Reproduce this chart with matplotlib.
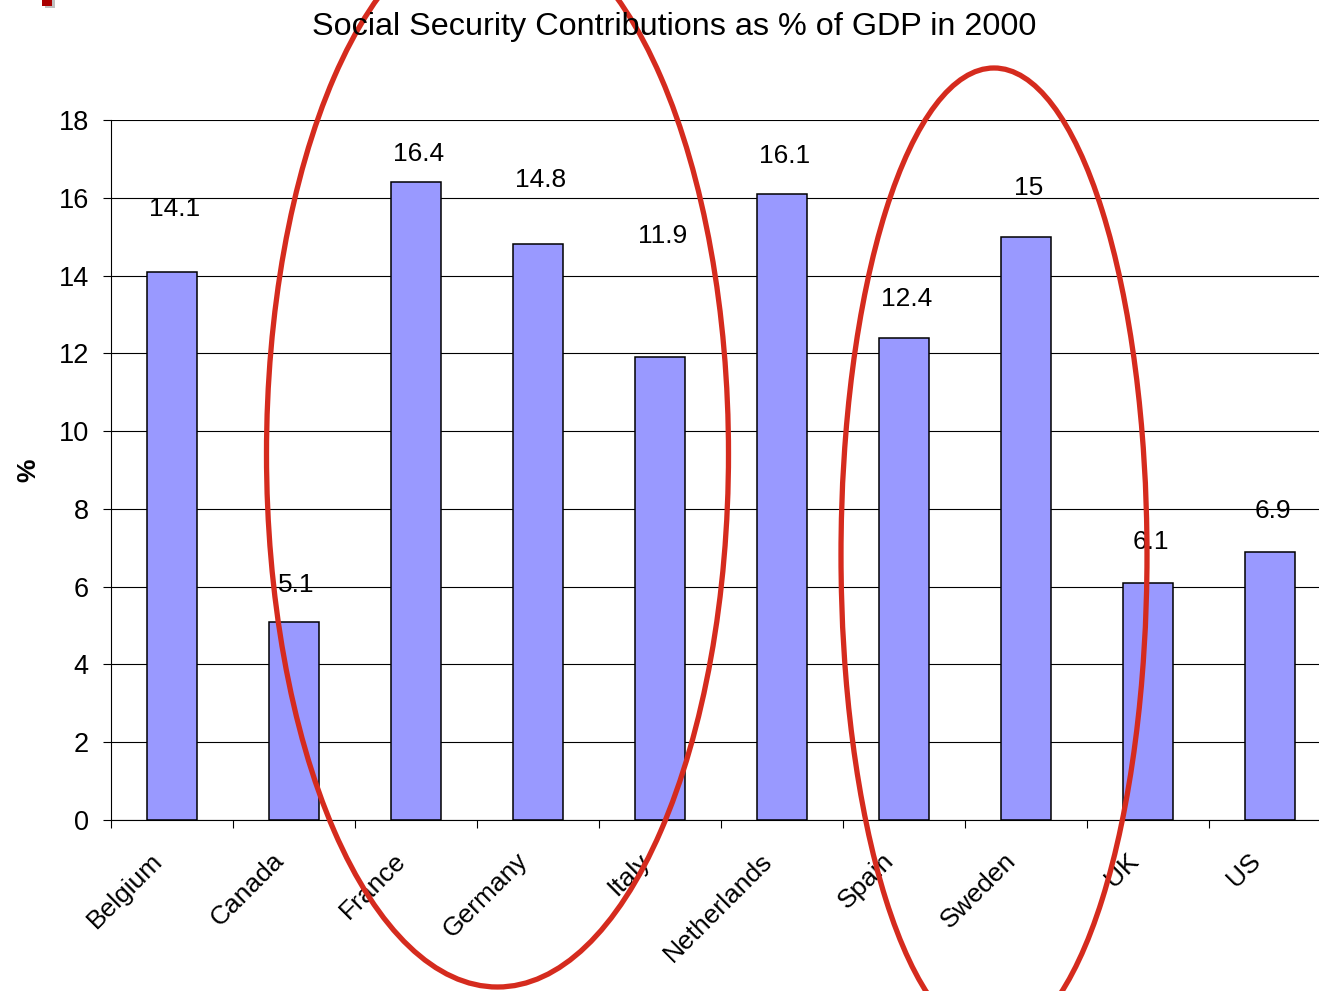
import matplotlib
matplotlib.use("Agg")
import matplotlib.pyplot as plt
from matplotlib.patches import Ellipse, Rectangle
from matplotlib.transforms import ScaledTranslation
import numpy as np

countries = ["Belgium", "Canada", "France", "Germany", "Italy",
             "Netherlands", "Spain", "Sweden", "UK", "US"]
contributions = [14.1, 5.1, 16.4, 14.8, 11.9, 16.1, 12.4, 15.0, 6.1, 6.9]
value_labels = ["14.1", "5.1", "16.4", "14.8", "11.9", "16.1", "12.4", "15", "6.1", "6.9"]

# where the data labels sit (data units)
label_heights = [15.72, 6.05, 17.12, 16.45, 15.02, 17.07, 13.4, 16.26, 7.16, 7.95]

plt.rcParams["font.family"] = ["Liberation Sans", "DejaVu Sans"]

W, H = 1319, 991
fig = plt.figure(figsize=(W / 100, H / 100), dpi=100)
ax = fig.add_axes([111 / W, 1 - 820 / H, 1220 / W, 700 / H])

x = np.arange(len(countries))
ax.bar(x, contributions, width=0.41, color="#9999ff", edgecolor="black",
       linewidth=1.1, zorder=3)
for xi, yl, lab in zip(x, label_heights, value_labels):
    ax.text(xi + 0.02, yl, lab, ha="center", va="center", fontsize=19, zorder=4)

ax.set_xlim(-0.5, len(countries) - 0.5)
ax.set_ylim(0, 18)
ax.set_yticks(np.arange(0, 19, 2))
ax.yaxis.grid(True, color="black", linewidth=0.8, zorder=0)
ax.set_axisbelow(True)
ax.tick_params(axis="y", direction="out", length=6, width=0.8, pad=10,
               labelsize=19.5)

ax.set_xticks(x)
ax.set_xticklabels(countries, rotation=45, ha="right", va="top",
                   rotation_mode="anchor", fontsize=19)
ax.tick_params(axis="x", which="major", length=0, pad=22)
shift = ScaledTranslation(-22 / 100, 2 / 100, fig.dpi_scale_trans)
for lbl in ax.get_xticklabels():
    lbl.set_transform(lbl.get_transform() + shift)
ax.set_xticks(np.arange(-0.5, len(countries), 1), minor=True)
ax.tick_params(axis="x", which="minor", direction="out", length=6, width=0.8)

for side in ("top", "right"):
    ax.spines[side].set_visible(False)
for side in ("left", "bottom"):
    ax.spines[side].set_linewidth(0.8)

ax.set_ylabel("%", fontsize=19, fontweight="bold", labelpad=13)

fig.text(674 / W, 1 - 27 / H, "Social Security Contributions as % of GDP in 2000",
         ha="center", va="center", fontsize=23.3)

# red rings drawn over the slide, in pixel coordinates
over = fig.add_axes([0, 0, 1, 1], facecolor="none")
over.set_xlim(0, W)
over.set_ylim(H, 0)
over.axis("off")
over.add_patch(Rectangle((45, -2), 10, 10, color="#c0c0c0", lw=0))
over.add_patch(Rectangle((42, -5), 10, 11, color="#aa0000", lw=0))
ring = dict(fill=False, edgecolor="#d52b1e", linewidth=3.8)
over.add_patch(Ellipse((497.5, 454), 2 * 231, 2 * 533, **ring))
over.add_patch(Ellipse((994, 555), 2 * 153, 2 * 487, **ring))

fig.savefig("out.png", dpi=100)
